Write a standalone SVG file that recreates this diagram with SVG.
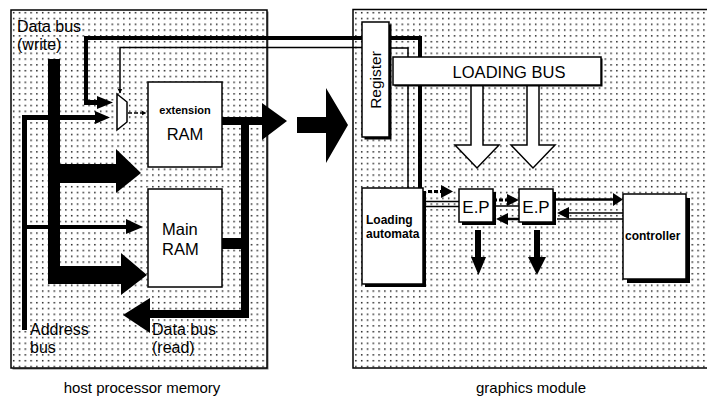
<svg xmlns="http://www.w3.org/2000/svg" width="707" height="403" viewBox="0 0 707 403">
  <defs>
    <pattern id="dots" x="11" y="10" width="5.8" height="5.8" patternUnits="userSpaceOnUse">
      <rect x="2" y="2" width="1.4" height="1.4" fill="#000"/>
    </pattern>
    <marker id="tip" viewBox="0 0 10 10" refX="9" refY="5" markerWidth="5" markerHeight="5" orient="auto" markerUnits="userSpaceOnUse">
      <path d="M0,0 L10,5 L0,10 Z" fill="#000"/>
    </marker>
  </defs>
  <style>
    text { font-family: "Liberation Sans", Arial, sans-serif; fill: #000; }
    .panel { fill: url(#dots); stroke: #000; stroke-width: 1.5; }
    .paper { fill: #fff; }
    .box { fill: #fff; stroke: #000; stroke-width: 1.5; }
    .shadow { fill: #000; }
    .bus { fill: #000; }
    .hollow { fill: #fff; stroke: #000; stroke-width: 1.5; stroke-linejoin: miter; }
    .thin { fill: none; stroke: #000; stroke-width: 1.5; }
    .med { fill: none; stroke: #000; stroke-width: 2.5; }
    .dash { fill: none; stroke: #000; stroke-width: 3; stroke-dasharray: 4 2; }
    .lbl { font-size: 16px; }
    .big { font-size: 16.5px; }
    .small { font-size: 12px; font-weight: bold; }
    .cap { font-size: 15px; }
  </style>

  <rect width="707" height="403" fill="#fff"/>

  <!-- panels -->
  <g id="host-panel">
    <rect x="12.5" y="11.5" width="256" height="358" fill="#777"/>
    <rect class="paper" x="11" y="10" width="256" height="358"/>
    <rect class="panel" x="11" y="10" width="256" height="358"/>
  </g>
  <g id="graphics-panel">
    <rect class="paper" x="353" y="9.5" width="380" height="358.5"/>
    <rect class="panel" x="353" y="9.5" width="380" height="358.5"/>
  </g>

  <!-- connectors -->
  <g id="connectors">
    <!-- data bus (write) feeding both memories -->
    <path class="bus" d="M48,59 H60 V164 H116 V149 L141,173 L116,193 V183 H60 V266 H121 V253 L147,275 L121,295 V284 H48 Z"/>
    <!-- address bus -->
    <path class="bus" d="M22,115 H95 V111 L110,117.5 L95,124 V120 H27 V225 H126 V219 L143,227 L126,234 V229 H27 V330 H22 Z"/>
    <!-- write path from the register side into the multiplexer -->
    <path class="bus" d="M362,36 V40 H88 V100 H97 V96 L113,102.5 L97,109 V105 H84 V36 Z"/>
    <polyline class="thin" points="362,47.5 120,47.5 120,93" marker-end="url(#tip)"/>
    <!-- multiplexer to extension RAM -->
    <line x1="128" y1="113" x2="146" y2="113" stroke="#000" stroke-width="1.5" stroke-dasharray="4 2" marker-end="url(#tip)"/>
    <!-- extension RAM output and data bus (read) -->
    <path class="bus" d="M222,117 H262 V103 L287,121 L262,140 V125 H249 V318 H150 V333 L123,315 L150,298 V310 H241 V125 H222 Z"/>
    <rect class="bus" x="222" y="238" width="19" height="11"/>
    <!-- transfer to graphics module -->
    <path class="bus" d="M297,117 H326 V88 L348,125 L326,163 V133 H297 Z"/>
    <!-- register outputs down to loading automata -->
    <path class="bus" d="M389,36 H422 V188 H418 V40 H389 Z"/>
    <polyline class="thin" points="389,48 408,48 408,188"/>
    <!-- loading bus drops -->
    <polygon class="hollow" points="471,85 483,85 483,145 499,145 477,168 455,145 471,145"/>
    <polygon class="hollow" points="527,85 539,85 539,145 555,145 533,168 511,145 527,145"/>
    <!-- automata to first E.P -->
    <line class="dash" x1="428" y1="191.5" x2="442" y2="191.5"/>
    <polygon class="bus" points="441,185 453,191.5 441,198"/>
    <line class="thin" x1="423" y1="201.5" x2="459" y2="201.5"/>
    <line class="thin" x1="423" y1="206.5" x2="459" y2="206.5"/>
    <!-- E.P to E.P -->
    <line class="dash" x1="493" y1="200" x2="508" y2="200"/>
    <polygon class="bus" points="507,194 519,200 507,206"/>
    <line class="thin" x1="493" y1="206" x2="519" y2="206"/>
    <line class="med" x1="508" y1="219" x2="519" y2="219"/>
    <polygon class="bus" points="496,219 508,213 508,225"/>
    <!-- E.P to controller -->
    <line class="med" x1="555" y1="199.5" x2="614" y2="199.5"/>
    <polygon class="bus" points="613,193 623,199.5 613,206"/>
    <line class="thin" x1="568" y1="213" x2="623" y2="213"/>
    <line class="thin" x1="557" y1="219" x2="623" y2="219"/>
    <polygon class="bus" points="557,213 569,207 569,219"/>
    <!-- E.P outputs -->
    <path class="bus" d="M475,230 H481 V257 H486 L478.5,275 L471,257 H475 Z"/>
    <path class="bus" d="M534,230 H540 V257 H546 L537,275 L528,257 H534 Z"/>
  </g>

  <!-- nodes -->
  <g id="mux">
    <polygon class="box" points="117,94 127,102 127,122 117,130"/>
  </g>
  <g id="extension-ram">
    <rect class="box" x="148" y="82" width="74" height="85"/>
    <text x="185" y="114" text-anchor="middle" style="font-size:11px;font-weight:bold">extension</text>
    <text class="big" x="185" y="140" text-anchor="middle">RAM</text>
  </g>
  <g id="main-ram">
    <rect class="box" x="148" y="189" width="74" height="98"/>
    <text class="big" x="162" y="235">Main</text>
    <text class="big" x="162" y="255">RAM</text>
  </g>
  <g id="register">
    <rect class="shadow" x="364.5" y="24.5" width="27" height="115"/>
    <rect class="box" x="362" y="22" width="27" height="115"/>
    <text transform="translate(381,80) rotate(-90)" text-anchor="middle" style="font-size:15.5px">Register</text>
  </g>
  <g id="loading-bus">
    <rect class="shadow" x="394.5" y="58.5" width="208" height="28"/>
    <rect class="box" x="393" y="57" width="208" height="28"/>
    <text class="big" x="509" y="78" text-anchor="middle">LOADING BUS</text>
  </g>
  <g id="loading-automata">
    <rect class="shadow" x="365" y="191" width="61" height="96"/>
    <rect class="box" x="362" y="188" width="61" height="96"/>
    <text class="small" x="366" y="224">Loading</text>
    <text class="small" x="366" y="238">automata</text>
  </g>
  <g id="ep-1">
    <rect class="shadow" x="462" y="192" width="34" height="33"/>
    <rect class="box" x="459" y="189" width="34" height="33"/>
    <text x="476" y="213" text-anchor="middle" style="font-size:17px">E.P</text>
  </g>
  <g id="ep-2">
    <rect class="shadow" x="522" y="192" width="34" height="33"/>
    <rect class="box" x="519" y="189" width="34" height="33"/>
    <text x="536" y="213" text-anchor="middle" style="font-size:17px">E.P</text>
  </g>
  <g id="controller">
    <rect class="shadow" x="627" y="198" width="63" height="85"/>
    <rect class="box" x="623" y="194" width="63" height="85"/>
    <text x="625" y="240" style="font-size:12px;font-weight:bold">controller</text>
  </g>

  <!-- bus labels -->
  <g id="labels">
    <text class="lbl" x="17" y="32">Data bus</text>
    <text class="lbl" x="17" y="50">(write)</text>
    <text class="lbl" x="30" y="335">Address</text>
    <text class="lbl" x="30" y="353">bus</text>
    <text class="lbl" x="152" y="335">Data bus</text>
    <text class="lbl" x="152" y="353">(read)</text>
    <text class="cap" x="142" y="393" text-anchor="middle">host processor memory</text>
    <text class="cap" x="531" y="393" text-anchor="middle">graphics module</text>
  </g>
</svg>
